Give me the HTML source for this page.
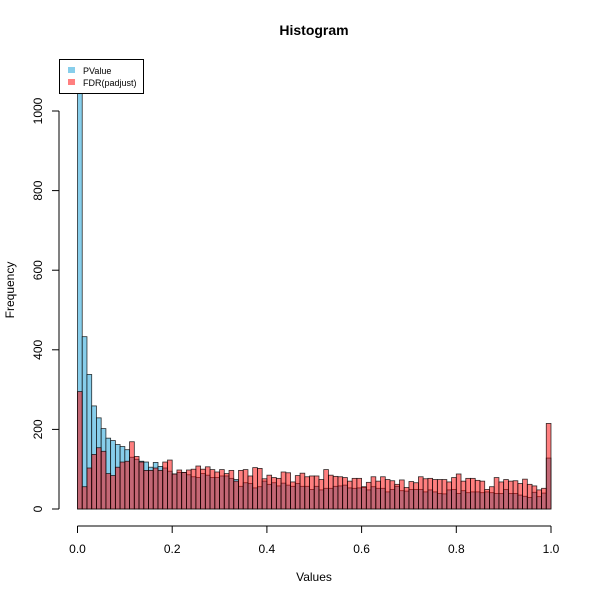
<!DOCTYPE html>
<html><head><meta charset="utf-8"><style>
body{margin:0;background:#fff;}
svg{font-family:"Liberation Sans",sans-serif;}
</style></head><body>
<svg id="chart" width="600" height="600" viewBox="0 0 600 600" xmlns="http://www.w3.org/2000/svg">
<defs><clipPath id="plotclip"><rect x="59" y="59" width="500" height="452"/></clipPath></defs>
<rect width="600" height="600" fill="#fff"/>
<text x="314" y="35" text-anchor="middle" font-size="14" font-weight="bold">Histogram</text>
<text x="314" y="581" text-anchor="middle" font-size="12">Values</text>
<text transform="translate(14,290) rotate(-90)" text-anchor="middle" font-size="12">Frequency</text>
<g id="bars" clip-path="url(#plotclip)"></g>
<g id="axes"></g>
<g>
<rect x="59.5" y="59.5" width="84" height="34" fill="#fff" stroke="#000" stroke-width="1"/>
<rect x="68" y="67" width="7" height="6" fill="rgb(135,206,235)"/>
<text x="83" y="74" font-size="9">PValue</text>
<rect x="68" y="79" width="7" height="6" fill="rgba(255,0,0,0.5)"/>
<text x="83" y="86" font-size="9">FDR(padjust)</text>
</g>
</svg>
<script>
const binStarts = Array.from({length:100},(_, i)=>i/100);
const pvalueCounts = [1150,433,338,259,229,202,178,172,162,157,149,130,125,120,118,105,117,107,103,95,88,92,92,86,
81,79,89,85,79,79,83,83,77,74,57,66,64,53,56,70,62,66,58,65,60,57,64,57,57,49,
57,48,52,52,57,58,60,53,52,53,54,48,56,52,52,43,49,57,46,45,49,49,49,43,
48,43,39,38,48,49,39,46,41,43,43,41,43,41,39,39,49,39,39,35,32,29,42,31,40,128];
const fdrCounts = [295,56,103,137,154,145,89,84,105,118,120,169,132,118,97,97,103,97,118,123,88,98,92,98,
100,108,100,106,99,93,99,89,97,70,97,99,83,104,102,76,85,79,77,93,91,68,84,90,81,83,
83,74,99,85,82,81,79,70,77,77,56,67,81,70,81,74,71,62,73,54,69,66,81,76,
77,74,74,74,68,79,88,70,77,77,72,70,49,56,79,68,74,70,71,64,75,62,58,48,52,215];
const yTicks = [0,200,400,600,800,1000];
const xTicks = [0,0.2,0.4,0.6,0.8,1.0];
const xTickLabels = ["0.0","0.2","0.4","0.6","0.8","1.0"];
const binWidth = 0.01;

const NS="http://www.w3.org/2000/svg";
const X = v => 77.5 + 473.5*v;
const Y = v => 509 - 0.398*v;
const bars=document.getElementById('bars'), axes=document.getElementById('axes');
function mk(tag,attrs,parent){const e=document.createElementNS(NS,tag);for(const k in attrs)e.setAttribute(k,attrs[k]);parent.appendChild(e);return e;}
function series(counts,fill,name){
  counts.forEach((c,i)=>{
    const x0=X(binStarts[i]), x1=X(binStarts[i]+binWidth);
    const r=mk('rect',{x:x0,y:Y(c),width:x1-x0,height:Y(0)-Y(c),fill:fill,stroke:'#000','stroke-width':0.8,'stroke-opacity':0.8},bars);
    
    
  });
}
series(pvalueCounts,'rgb(135,206,235)','pvalue');
series(fdrCounts,'rgba(255,0,0,0.5)','fdr');
// y axis
const ya=mk('line',{x1:59,x2:59,y1:Y(0),y2:Y(1000),stroke:'#000'},axes);


yTicks.forEach(t=>{
  mk('line',{x1:52,x2:59,y1:Y(t),y2:Y(t),stroke:'#000'},axes);
  const tx=mk('text',{transform:`translate(42,${Y(t)}) rotate(-90)`,'text-anchor':'middle','font-size':12},axes);
  tx.textContent=String(t);
  
  
});
// x axis
const xa=mk('line',{x1:X(0),x2:X(1),y1:526,y2:526,stroke:'#000'},axes);


xTicks.forEach((t,i)=>{
  mk('line',{x1:X(t),x2:X(t),y1:526,y2:533,stroke:'#000'},axes);
  const tx=mk('text',{x:X(t),y:553,'text-anchor':'middle','font-size':12},axes);
  tx.textContent=xTickLabels[i];
  
  
});
</script>
</body></html>
